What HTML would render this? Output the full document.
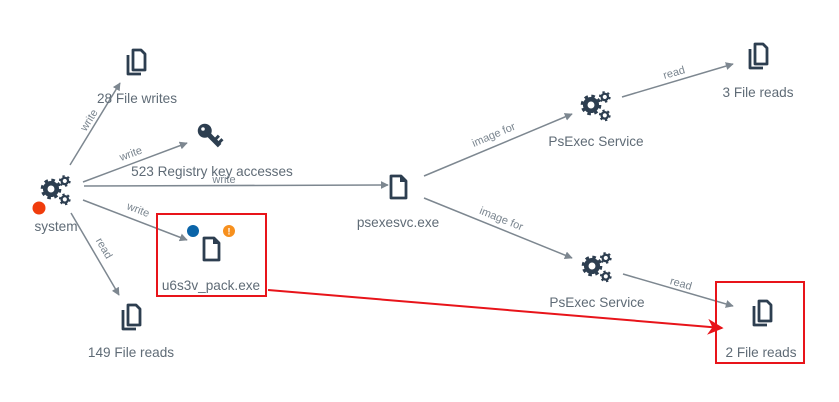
<!DOCTYPE html>
<html><head><meta charset="utf-8"><style>
html,body{margin:0;padding:0;background:#fff;}
svg{display:block;font-family:"Liberation Sans",sans-serif;}
.lbl{font-size:13.6px;fill:#5f6b76;text-anchor:middle;}
.el{font-size:11px;fill:#7a858f;text-anchor:middle;}
.e{stroke:#7d8790;stroke-width:1.5;fill:none;marker-end:url(#a);}
.ic{fill:none;stroke:#2d3e50;stroke-width:2.8;stroke-linejoin:round;}
</style></head><body>
<svg width="839" height="402" viewBox="0 0 839 402" xmlns="http://www.w3.org/2000/svg">
<defs>
<marker id="a" viewBox="0 0 10 10" refX="9" refY="5" markerWidth="8" markerHeight="8" orient="auto" markerUnits="userSpaceOnUse"><path d="M0,0L10,5L0,10z" fill="#7d8790"/></marker>
<marker id="r" viewBox="0 0 10 10" refX="9" refY="5" markerWidth="16" markerHeight="16" orient="auto" markerUnits="userSpaceOnUse"><path d="M0,0L10,5L0,10L3,5z" fill="#e8141a"/></marker>
<g id="doc"><path class="ic" d="M-7,-11 H3 L8,-6 V11 H-7 Z"/><path d="M2,-11 V-5 H8" fill="#2d3e50"/></g>
<g id="docs"><path class="ic" d="M-3,-12 H5 L9,-8 V8 H-3 Z"/><path class="ic" d="M-8,-7 V12 H5"/></g>
<g id="gear0">
<circle r="5" fill="none" stroke="#2d3e50" stroke-width="4"/>
<circle r="7.5" fill="none" stroke="#2d3e50" stroke-width="3" stroke-dasharray="3 2.9"/>
<circle cx="12" cy="-7" r="2.8" fill="none" stroke="#2d3e50" stroke-width="2"/>
<circle cx="12" cy="-7" r="4.3" fill="none" stroke="#2d3e50" stroke-width="1.6" stroke-dasharray="2 2.5"/>
<circle cx="12" cy="9" r="2.8" fill="none" stroke="#2d3e50" stroke-width="2"/>
<circle cx="12" cy="9" r="4.3" fill="none" stroke="#2d3e50" stroke-width="1.6" stroke-dasharray="2 2.5"/>
</g>
<g id="gear"><use href="#gear0" transform="scale(1.15)"/></g>
</defs>

<!-- edges -->
<line class="e" x1="70" y1="165" x2="120" y2="83"/>
<text class="el" transform="translate(92,122) rotate(-58)">write</text>
<line class="e" x1="83" y1="182" x2="187" y2="143"/>
<text class="el" transform="translate(132,157) rotate(-20)">write</text>
<line class="e" x1="84" y1="186" x2="388" y2="185"/>
<text class="el" x="224" y="183">write</text>
<line class="e" x1="83" y1="200" x2="187" y2="240"/>
<text class="el" transform="translate(137,213) rotate(21)">write</text>
<line class="e" x1="71" y1="213" x2="119" y2="295"/>
<text class="el" transform="translate(101,250) rotate(60)">read</text>
<line class="e" x1="424" y1="176" x2="572" y2="114"/>
<text class="el" transform="translate(495,138) rotate(-23)">image for</text>
<line class="e" x1="424" y1="198" x2="572" y2="258"/>
<text class="el" transform="translate(500,222) rotate(22)">image for</text>
<line class="e" x1="622" y1="97" x2="733" y2="64"/>
<text class="el" transform="translate(675,76) rotate(-16)">read</text>
<line class="e" x1="623" y1="274" x2="733" y2="306"/>
<text class="el" transform="translate(680,287) rotate(16)">read</text>
<line x1="268" y1="290" x2="722" y2="328" stroke="#e8141a" stroke-width="2" marker-end="url(#r)"/>

<!-- nodes -->
<use href="#gear" x="51" y="189"/>
<circle cx="39" cy="208" r="6.5" fill="#f03c0c"/>
<text class="lbl" x="56" y="231">system</text>

<use href="#docs" x="136" y="62"/>
<text class="lbl" x="137" y="103">28 File writes</text>

<g transform="translate(209,135) rotate(-45)" fill="#2d3e50">
<circle cx="0" cy="-6" r="7"/><rect x="-2.5" y="-1" width="5" height="16"/><rect x="2" y="6" width="4.5" height="3"/><rect x="2" y="11" width="4.5" height="3"/>
</g>
<circle cx="203" cy="129" r="1.8" fill="#fff"/>
<text class="lbl" x="212" y="176">523 Registry key accesses</text>

<use href="#doc" x="398" y="187"/>
<text class="lbl" x="398" y="227">psexesvc.exe</text>

<rect x="157" y="214" width="109" height="82" fill="none" stroke="#e8141a" stroke-width="2"/>
<circle cx="193" cy="231" r="6" fill="#0a64a8"/>
<circle cx="229" cy="231" r="6" fill="#f7901e"/>
<text x="229" y="234.5" font-size="9" font-weight="bold" fill="#fff" text-anchor="middle">!</text>
<use href="#doc" x="211" y="249"/>
<text class="lbl" x="211" y="290">u6s3v_pack.exe</text>

<use href="#docs" x="131" y="317"/>
<text class="lbl" x="131" y="357">149 File reads</text>

<use href="#gear" x="591" y="105"/>
<text class="lbl" x="596" y="146">PsExec Service</text>

<use href="#docs" x="758" y="56"/>
<text class="lbl" x="758" y="97">3 File reads</text>

<use href="#gear" x="592" y="266"/>
<text class="lbl" x="597" y="307">PsExec Service</text>

<rect x="716" y="282" width="88" height="81" fill="none" stroke="#e8141a" stroke-width="2"/>
<use href="#docs" x="762" y="313"/>
<text class="lbl" x="761" y="357">2 File reads</text>
</svg>
</body></html>
